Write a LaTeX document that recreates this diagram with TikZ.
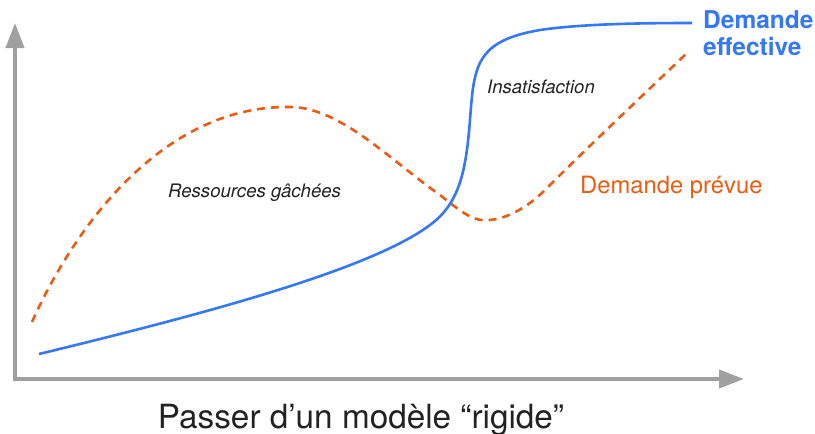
\documentclass[tikz,border=0pt]{standalone}
\usepackage{fontspec}
\setmainfont{TeX Gyre Heros}
\usetikzlibrary{arrows.meta}
\definecolor{axisgray}{RGB}{160,160,160}
\definecolor{effblue}{RGB}{52,120,246}
\definecolor{prevorange}{RGB}{234,92,18}
\definecolor{txtdark}{RGB}{34,34,34}
\tikzset{
  axis/.style={draw=axisgray, line width=4pt, -{Triangle[length=25pt,width=18pt]}},
  bluecurve/.style={draw=effblue, line width=2.6pt},
  orangecurve/.style={draw=prevorange, line width=2.6pt, dash pattern=on 8pt off 6pt},
  lbl/.style={inner sep=0pt, anchor=base west},
  efflbl/.style={lbl, text=effblue, font=\fontsize{24.5}{27}\selectfont\bfseries},
}
\begin{document}
\begin{tikzpicture}[x=1pt,y=-1pt]
\useasboundingbox (0,0) rectangle (815,434);
\coordinate (origin) at (15,379);
\coordinate (ytip) at (15,23);
\coordinate (xstart) at (13,379);
\coordinate (xtip) at (744,379);
\draw[axis] (origin) -- (ytip);
\draw[axis] (xstart) -- (xtip);
% Demande prevue
\coordinate (o0) at (32,322);
\coordinate (o1) at (290,107);
\coordinate (o2) at (440,195);
\coordinate (o3) at (490,220);
\coordinate (o4) at (545,190);
\coordinate (o5) at (687,53);
\draw[orangecurve] (o0) .. controls (80,215) and (170,105) .. (o1)
  .. controls (340,107) and (390,160) .. (o2)
  .. controls (465,215) and (475,222) .. (o3)
  .. controls (510,218) and (530,205) .. (o4)
  .. controls (590,145) and (640,98) .. (o5);
% Demande effective
\coordinate (b0) at (39,354);
\coordinate (b1) at (430,225);
\coordinate (b2) at (470,120);
\coordinate (b3) at (540,30);
\coordinate (b4) at (692,23);
\draw[bluecurve] (b0) .. controls (200,315) and (370,270) .. (b1)
  .. controls (460,203) and (466,170) .. (b2)
  .. controls (474,65) and (476,41) .. (b3)
  .. controls (580,24) and (640,23) .. (b4);
\node[efflbl] (eff1) at (703,28) {Demande};
\node[efflbl] (eff2) at (703,55) {effective};
\node[lbl, text=prevorange, font=\fontsize{23.8}{27}\selectfont] (prev) at (580,193) {Demande prévue};
\node[lbl, text=txtdark, font=\fontsize{18.5}{22}\selectfont\itshape] (insat) at (487,93) {Insatisfaction};
\node[lbl, text=txtdark, font=\fontsize{18.6}{22}\selectfont\itshape] (gach) at (168,197) {Ressources gâchées};
\node[inner sep=0pt, anchor=base, text=txtdark, font=\fontsize{33.3}{36}\selectfont] (title) at (361,428) {Passer d’un modèle “rigide”};
\end{tikzpicture}
\end{document}
